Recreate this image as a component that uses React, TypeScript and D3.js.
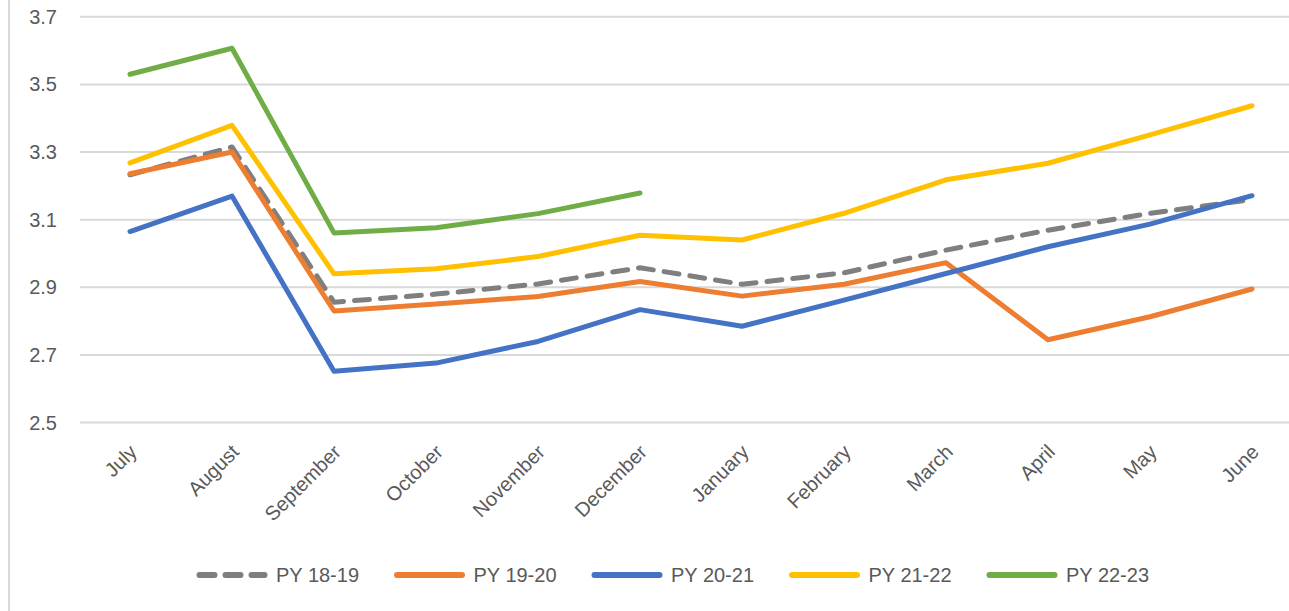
import React from "react";
import { scalePoint, scaleLinear, line, format } from "d3";

const months = [
  "July", "August", "September", "October", "November", "December",
  "January", "February", "March", "April", "May", "June",
];

const py1819 = [3.233, 3.315, 2.856, 2.88, 2.91, 2.958, 2.909, 2.943, 3.01, 3.069, 3.119, 3.16];
const py1920 = [3.236, 3.3, 2.83, 2.851, 2.873, 2.917, 2.874, 2.909, 2.973, 2.745, 2.813, 2.895];
const py2021 = [3.065, 3.17, 2.652, 2.676, 2.74, 2.834, 2.785, 2.862, 2.941, 3.02, 3.087, 3.171];
const py2122 = [3.268, 3.379, 2.94, 2.955, 2.991, 3.054, 3.04, 3.119, 3.218, 3.267, 3.351, 3.437];
const py2223 = [3.53, 3.607, 3.061, 3.076, 3.118, 3.179];

const seriesNames = ["PY 18-19", "PY 19-20", "PY 20-21", "PY 21-22", "PY 22-23"];
const seriesValues = [py1819, py1920, py2021, py2122, py2223];
const seriesColors = ["#7f7f7f", "#ed7d31", "#4472c4", "#ffc000", "#70ad47"];

const yTicks = [2.5, 2.7, 2.9, 3.1, 3.3, 3.5, 3.7];

const width = 1289;
const height = 611;
const font = "'Liberation Sans', Arial, sans-serif";
const textColor = "#595959";

export default function App() {
  const x = scalePoint<string>().domain(months).range([130, 1252]);
  const y = scaleLinear().domain([2.5, 3.7]).range([422.6, 16.8]);
  const fmt = format(".1f");

  const path = line<number>()
    .x((d, i) => x(months[i]) as number)
    .y((d) => y(d));

  const legendX = scaleLinear().domain([0, 1]).range([197, 394.5]);

  return (
    <svg
      width={width}
      height={height}
      style={{ position: "absolute", left: 0, top: 0, background: "#fff" }}
      fontFamily={font}
    >
      <rect width={width} height={height} fill="#fff" />
      <line x1={9} x2={9} y1={0} y2={height} stroke="#d9d9d9" strokeWidth={2} />

      {/* gridlines + y labels */}
      {yTicks.map((t) => (
        <g key={t}>
          <line x1={80} x2={width} y1={y(t)} y2={y(t)} stroke="#d9d9d9" strokeWidth={2} />
          <text
            x={57}
            y={y(t)}
            dy="0.35em"
            textAnchor="end"
            fontSize={20}
            fill={textColor}
          >
            {fmt(t)}
          </text>
        </g>
      ))}

      {/* x labels */}
      {months.map((m) => (
        <text
          key={m}
          transform={`translate(${(x(m) as number) - 2}, 443) rotate(-45)`}
          dy="0.72em"
          textAnchor="end"
          fontSize={20}
          fill={textColor}
        >
          {m}
        </text>
      ))}

      {/* lines */}
      {seriesValues.map((vals, i) => (
        <path
          key={seriesNames[i]}
          d={path(vals) || ""}
          fill="none"
          stroke={seriesColors[i]}
          strokeWidth={5}
          strokeLinecap="round"
          strokeLinejoin="round"
          strokeDasharray={i === 0 ? "15 11" : undefined}
        />
      ))}

      {/* legend */}
      {seriesNames.map((name, i) => {
        const lx = legendX(i);
        return (
          <g key={name} transform={`translate(${lx}, 575)`}>
            <line
              x1={2.5}
              x2={67.5}
              y1={0}
              y2={0}
              stroke={seriesColors[i]}
              strokeWidth={6}
              strokeLinecap="round"
              strokeDasharray={i === 0 ? "15 11" : undefined}
            />
            <text x={79} y={0} dy="0.36em" fontSize={20} fill={textColor}>
              {name}
            </text>
          </g>
        );
      })}
    </svg>
  );
}
